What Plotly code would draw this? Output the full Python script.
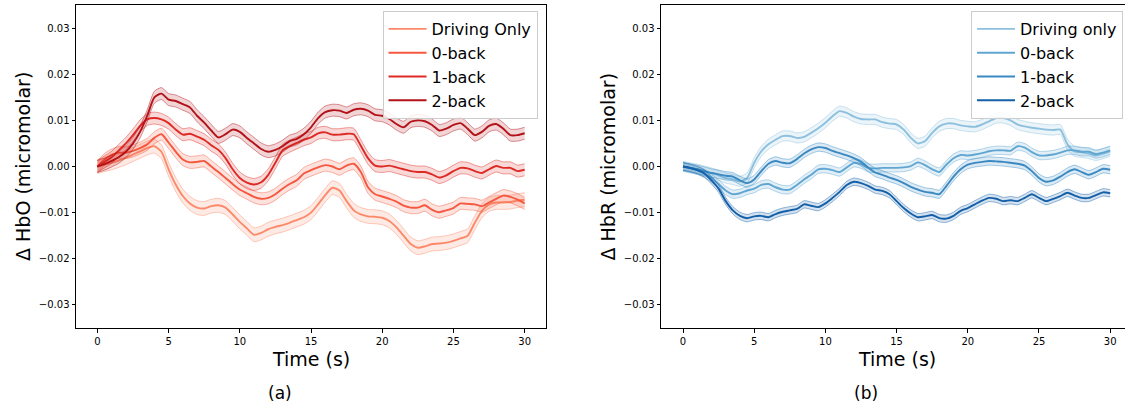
import plotly.graph_objects as go

# ---------------- data ----------------
time_s = [i * 0.5 for i in range(61)]
x_ticks = [0, 5, 10, 15, 20, 25, 30]
y_ticks = [-0.03, -0.02, -0.01, 0.0, 0.01, 0.02, 0.03]
y_ticklabels = ["\u22120.03", "\u22120.02", "\u22120.01", "0.00", "0.01", "0.02", "0.03"]

hbo_labels = ["Driving Only", "0-back", "1-back", "2-back"]
hbr_labels = ["Driving only", "0-back", "1-back", "2-back"]

hbo_driving = [0.0, 0.0004, 0.0008, 0.0013, 0.0019, 0.0026, 0.0033, 0.0040, 0.0044, 0.0032,
               -0.0006, -0.0039, -0.0064, -0.0080, -0.0089, -0.0091, -0.0086, -0.0084, -0.0089, -0.0104,
               -0.0120, -0.0134, -0.0148, -0.0144, -0.0136, -0.0131, -0.0127, -0.0122, -0.0116, -0.0110,
               -0.0100, -0.0082, -0.0062, -0.0046, -0.0052, -0.0075, -0.0095, -0.0104, -0.0108, -0.0109,
               -0.0111, -0.0118, -0.0132, -0.0150, -0.0168, -0.0176, -0.0173, -0.0168, -0.0167, -0.0165,
               -0.0161, -0.0156, -0.0150, -0.0122, -0.0096, -0.0082, -0.0078, -0.0078, -0.0077, -0.0074,
               -0.0072]
hbo_0back = [0.0, 0.0015, 0.0025, 0.0030, 0.0030, 0.0034, 0.0040, 0.0048, 0.0062, 0.0070,
             0.0052, 0.0032, 0.0015, 0.0009, 0.0010, 0.0012, 0.0000, -0.0012, -0.0025, -0.0038,
             -0.0050, -0.0058, -0.0066, -0.0070, -0.0068, -0.0060, -0.0048, -0.0038, -0.0030, -0.0015,
             -0.0008, -0.0002, 0.0003, 0.0000, -0.0006, 0.0002, 0.0006, -0.0012, -0.0045, -0.0060,
             -0.0065, -0.0070, -0.0076, -0.0085, -0.0089, -0.0089, -0.0084, -0.0094, -0.0099, -0.0095,
             -0.0090, -0.0080, -0.0081, -0.0082, -0.0086, -0.0078, -0.0070, -0.0063, -0.0066, -0.0072,
             -0.0080]
hbo_1back = [0.0, 0.0010, 0.0020, 0.0035, 0.0050, 0.0068, 0.0088, 0.0102, 0.0105, 0.0102,
             0.0094, 0.0080, 0.0069, 0.0071, 0.0065, 0.0058, 0.0046, 0.0036, 0.0018, -0.0006,
             -0.0025, -0.0035, -0.0039, -0.0034, -0.0018, 0.0008, 0.0035, 0.0044, 0.0051, 0.0058,
             0.0063, 0.0072, 0.0074, 0.0069, 0.0069, 0.0071, 0.0070, 0.0045, 0.0018, 0.0002,
             0.0000, 0.0002, -0.0002, -0.0006, -0.0010, -0.0012, -0.0012, -0.0017, -0.0024, -0.0019,
             -0.0010, -0.0003, -0.0004, -0.0010, -0.0014, -0.0006, 0.0001, -0.0003, -0.0003, -0.0010,
             -0.0007]
hbo_2back = [0.0, 0.0005, 0.0012, 0.0020, 0.0032, 0.0050, 0.0075, 0.0110, 0.0150, 0.0158,
             0.0145, 0.0142, 0.0135, 0.0128, 0.0110, 0.0095, 0.0078, 0.0063, 0.0070, 0.0080,
             0.0075, 0.0062, 0.0050, 0.0038, 0.0032, 0.0036, 0.0044, 0.0055, 0.0060, 0.0070,
             0.0085, 0.0105, 0.0118, 0.0122, 0.0121, 0.0116, 0.0123, 0.0125, 0.0121, 0.0112,
             0.0110, 0.0103, 0.0092, 0.0085, 0.0097, 0.0100, 0.0098, 0.0090, 0.0078, 0.0082,
             0.0090, 0.0094, 0.0082, 0.0068, 0.0075, 0.0088, 0.0092, 0.0082, 0.0068, 0.0068,
             0.0072]

hbr_driving = [0.0, -0.0003, -0.0006, -0.0010, -0.0014, -0.0019, -0.0025, -0.0028, -0.0032, -0.0025,
               0.0008, 0.0033, 0.0048, 0.0058, 0.0066, 0.0066, 0.0062, 0.0064, 0.0073, 0.0083,
               0.0095, 0.0109, 0.0120, 0.0116, 0.0108, 0.0103, 0.0102, 0.0102, 0.0096, 0.0093,
               0.0091, 0.0080, 0.0062, 0.0050, 0.0055, 0.0073, 0.0087, 0.0093, 0.0093, 0.0089,
               0.0087, 0.0086, 0.0091, 0.0098, 0.0105, 0.0105, 0.0100, 0.0091, 0.0087, 0.0084,
               0.0082, 0.0080, 0.0079, 0.0080, 0.0048, 0.0033, 0.0031, 0.0028, 0.0024, 0.0028,
               0.0033]
hbr_0back = [0.0, -0.0004, -0.0008, -0.0015, -0.0025, -0.0038, -0.0052, -0.0060, -0.0058, -0.0052,
             -0.0048, -0.0040, -0.0038, -0.0045, -0.0050, -0.0050, -0.0040, -0.0028, -0.0018, -0.0006,
             -0.0005, -0.0008, -0.0012, -0.0002, 0.0008, 0.0005, -0.0003, -0.0004, -0.0003, -0.0003,
             -0.0003, -0.0002, 0.0001, 0.0009, 0.0003, -0.0006, -0.0012, 0.0004, 0.0018, 0.0025,
             0.0024, 0.0026, 0.0029, 0.0033, 0.0035, 0.0035, 0.0034, 0.0044, 0.0041, 0.0031,
             0.0024, 0.0024, 0.0026, 0.0030, 0.0035, 0.0035, 0.0032, 0.0032, 0.0027, 0.0030,
             0.0035]
hbr_1back = [0.0, -0.0003, -0.0006, -0.0010, -0.0014, -0.0017, -0.0020, -0.0022, -0.0030, -0.0036,
             -0.0028, -0.0010, 0.0006, 0.0012, 0.0008, 0.0007, 0.0016, 0.0028, 0.0037, 0.0042,
             0.0040, 0.0034, 0.0029, 0.0024, 0.0018, 0.0010, -0.0002, -0.0013, -0.0018, -0.0024,
             -0.0029, -0.0036, -0.0044, -0.0050, -0.0055, -0.0057, -0.0060, -0.0042, -0.0022, -0.0006,
             0.0004, 0.0008, 0.0010, 0.0012, 0.0011, 0.0010, 0.0008, 0.0006, 0.0002, -0.0010,
             -0.0025, -0.0033, -0.0030, -0.0022, -0.0012, -0.0006, -0.0012, -0.0018, -0.0012, -0.0005,
             -0.0007]
hbr_2back = [0.0, -0.0003, -0.0008, -0.0015, -0.0030, -0.0048, -0.0075, -0.0095, -0.0107, -0.0112,
             -0.0108, -0.0107, -0.0110, -0.0103, -0.0098, -0.0095, -0.0092, -0.0082, -0.0085, -0.0088,
             -0.0080, -0.0068, -0.0055, -0.0040, -0.0033, -0.0036, -0.0042, -0.0050, -0.0053, -0.0060,
             -0.0075, -0.0090, -0.0102, -0.0110, -0.0108, -0.0105, -0.0112, -0.0113, -0.0107, -0.0096,
             -0.0090, -0.0082, -0.0074, -0.0068, -0.0070, -0.0075, -0.0073, -0.0075, -0.0068, -0.0060,
             -0.0068, -0.0075, -0.0070, -0.0064, -0.0057, -0.0063, -0.0068, -0.0068, -0.0062, -0.0056,
             -0.0058]

# half width of the shaded band (standard error) per series
hbo_sem = [0.0015, 0.0013, 0.0013, 0.0013]
hbr_sem = [0.0011, 0.0009, 0.0009, 0.0008]

red_colors = [(252, 138, 106), (245, 88, 63), (221, 42, 37), (179, 18, 24)]
blue_colors = [(141, 192, 222), (96, 166, 210), (58, 137, 194), (20, 96, 168)]

# ---------------- figure ----------------
FONT = "DejaVu Sans"
fig = go.Figure()


def rgba(c, a):
    return "rgba(%d,%d,%d,%.2f)" % (c[0], c[1], c[2], a)


def add_series(y, sem, color, name, xa, ya, legend):
    up = [v + sem for v in y]
    lo = [v - sem for v in y]
    fig.add_trace(go.Scatter(x=time_s, y=up, mode="lines", xaxis=xa, yaxis=ya,
                             line=dict(color=rgba(color, 0.45), width=1, shape="spline", smoothing=0.6),
                             showlegend=False, hoverinfo="skip"))
    fig.add_trace(go.Scatter(x=time_s, y=lo, mode="lines", xaxis=xa, yaxis=ya, fill="tonexty",
                             fillcolor=rgba(color, 0.18),
                             line=dict(color=rgba(color, 0.45), width=1, shape="spline", smoothing=0.6),
                             showlegend=False, hoverinfo="skip"))
    fig.add_trace(go.Scatter(x=time_s, y=y, mode="lines", name=name, xaxis=xa, yaxis=ya,
                             line=dict(color=rgba(color, 1), width=1.9, shape="spline", smoothing=0.6),
                             legend=legend))


for ys, s, c, n in zip([hbo_driving, hbo_0back, hbo_1back, hbo_2back], hbo_sem, red_colors, hbo_labels):
    add_series(ys, s, c, n, "x", "y", "legend")
for ys, s, c, n in zip([hbr_driving, hbr_0back, hbr_1back, hbr_2back], hbr_sem, blue_colors, hbr_labels):
    add_series(ys, s, c, n, "x2", "y2", "legend2")

axis_common = dict(showgrid=False, zeroline=False, showline=True, linecolor="black", linewidth=1,
                   ticks="outside", ticklen=3.5, tickwidth=0.8, tickcolor="black",
                   tickfont=dict(family=FONT, size=10, color="black"))

legend_common = dict(y=(328 - 11) / 323, yanchor="top", xanchor="right", traceorder="normal",
                     bgcolor="rgba(255,255,255,0.85)", bordercolor="#cccccc", borderwidth=1,
                     font=dict(family=FONT, size=16, color="black"), tracegroupgap=0,
                     itemwidth=38)

fig.update_layout(
    width=1125, height=408,
    margin=dict(l=0, r=0, t=5, b=80),
    paper_bgcolor="white", plot_bgcolor="white",
    font=dict(family=FONT, color="black"),
    xaxis=dict(domain=[76 / 1125, 546 / 1125], range=[-1.5, 31.5], tickvals=x_ticks, mirror=True,
               anchor="y", **axis_common),
    yaxis=dict(range=[-0.035, 0.035], tickvals=y_ticks, ticktext=y_ticklabels, mirror=True,
               anchor="x", **axis_common),
    xaxis2=dict(domain=[661 / 1125, 1.0], range=[-1.545, 31.04], tickvals=x_ticks, mirror=True,
                anchor="y2", **axis_common),
    yaxis2=dict(range=[-0.035, 0.035], tickvals=y_ticks, ticktext=y_ticklabels, mirror=False,
                anchor="x2", **axis_common),
    legend=dict(x=537.5 / 1125, **legend_common),
    legend2=dict(x=1123 / 1125, **legend_common),
)

ann_font = dict(family=FONT, size=19, color="black")
cap_font = dict(family=FONT, size=17, color="black")
annotations = [
    dict(text="Time (s)", x=15, xref="x", y=(328 - 359) / 323, yref="paper", showarrow=False,
         xanchor="center", yanchor="middle", font=ann_font),
    dict(text="Time (s)", x=15, xref="x2", y=(328 - 359) / 323, yref="paper", showarrow=False,
         xanchor="center", yanchor="middle", font=ann_font),
    dict(text="\u0394 HbO (micromolar)", x=22.5 / 1125, xref="paper", y=0.5, yref="paper",
         textangle=-90, showarrow=False, xanchor="center", yanchor="middle", font=ann_font),
    dict(text="\u0394 HbR (micromolar)", x=607 / 1125, xref="paper", y=0.5, yref="paper",
         textangle=-90, showarrow=False, xanchor="center", yanchor="middle", font=ann_font),
    dict(text="(a)", x=279.6 / 1125, xref="paper", y=(328 - 393) / 323, yref="paper",
         showarrow=False, xanchor="center", yanchor="middle", font=cap_font),
    dict(text="(b)", x=865.6 / 1125, xref="paper", y=(328 - 393) / 323, yref="paper",
         showarrow=False, xanchor="center", yanchor="middle", font=cap_font),
]
fig.update_layout(annotations=annotations)

fig.write_html("out.html", config={"displayModeBar": False},
               post_script="document.body.style.margin='0px';")
